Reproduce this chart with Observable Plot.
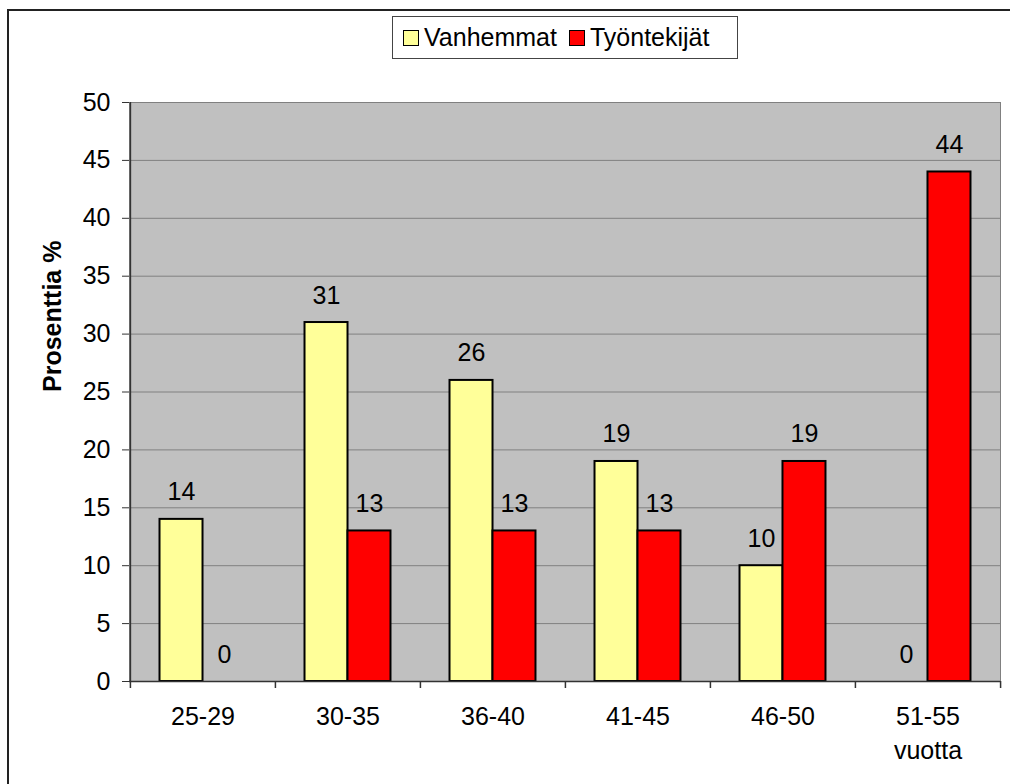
<!DOCTYPE html>
<html>
<head>
<meta charset="utf-8">
<script src="https://cdn.jsdelivr.net/npm/d3@7"></script>
<script src="https://cdn.jsdelivr.net/npm/@observablehq/plot@0.6"></script>
<style>
  html, body { margin: 0; padding: 0; background: #fff; overflow: hidden; }
  body { width: 1010px; height: 784px; position: relative; font-family: "Liberation Sans", Arial, sans-serif; }
  #border { position: absolute; left: 7px; top: 9px; width: 1100px; height: 900px; border-top: 2px solid #222; border-left: 2px solid #222; pointer-events: none; }
  #legendArea { position: relative; height: 90px; }
  #legend { position: absolute; left: 392px; top: 16px; width: 344px; height: 41px; border: 1px solid #444; display: flex; align-items: center; font-size: 25px; color: #000; background: #fff; }
  .sw { width: 14px; height: 14px; border: 1px solid #000; display: inline-block; }
  .item { display: flex; align-items: center; }
</style>
</head>
<body>
<div id="border"></div>
<div id="legendArea"><div id="legend"></div></div>
<div id="chart"></div>
<script>
const categories = ["25-29", "30-35", "36-40", "41-45", "46-50", "51-55\nvuotta"];
const seriesNames = ["Vanhemmat", "Työntekijät"];
const vanhemmat = [14, 31, 26, 19, 10, 0];
const tyontekijat = [0, 13, 13, 13, 19, 44];
const yTicks = [0, 5, 10, 15, 20, 25, 30, 35, 40, 45, 50];
const colors = ["#FFFF99", "#FF0000"];
const yLabel = "Prosenttia %";

const rows = categories.flatMap((c, i) => [
  {cat: c, series: seriesNames[0], value: vanhemmat[i]},
  {cat: c, series: seriesNames[1], value: tyontekijat[i]}
]);

// legend
const legend = document.getElementById("legend");
seriesNames.forEach((s, i) => {
  const it = document.createElement("div");
  it.className = "item";
  it.style.marginLeft = i === 0 ? "10px" : "12px";
  const sw = document.createElement("span");
  sw.className = "sw";
  sw.style.background = colors[i];
  const t = document.createElement("span");
  t.textContent = s;
  t.style.marginLeft = "5px";
  it.appendChild(sw); it.appendChild(t);
  legend.appendChild(it);
});

const W = 1010, H = 694, mL = 129, mR = 10, mT = 12, mB = 103;
const step = (W - mL - mR) / categories.length;
const padInner = 0.704;
const half = step * (1 - padInner) / 2;
const font = "Liberation Sans, Arial, sans-serif";
const fs = 25;

const chart = Plot.plot({
  width: W, height: H,
  marginLeft: mL, marginRight: mR, marginTop: mT, marginBottom: mB,
  style: {fontFamily: font, fontSize: fs + "px", color: "#000", background: "transparent", overflow: "visible"},
  x: {domain: categories, paddingInner: padInner, paddingOuter: padInner / 2, axis: null},
  y: {domain: [0, 50], axis: null},
  marks: [
    Plot.frame({fill: "#C0C0C0", stroke: "#808080"}),
    Plot.ruleY(yTicks.filter(d => d > 0), {stroke: "#808080", strokeWidth: 1}),
    Plot.barY(rows.filter(d => d.series === seriesNames[0] && d.value > 0), {x: "cat", y: "value", fill: colors[0], stroke: "#000", strokeWidth: 2, dx: -half}),
    Plot.barY(rows.filter(d => d.series === seriesNames[1] && d.value > 0), {x: "cat", y: "value", fill: colors[1], stroke: "#000", strokeWidth: 2, dx: half}),
    Plot.text(rows.filter(d => d.series === seriesNames[0]), {x: "cat", y: "value", text: d => String(d.value), dx: -half, dy: -27, fontSize: fs, fill: "#000"}),
    Plot.text(rows.filter(d => d.series === seriesNames[1]), {x: "cat", y: "value", text: d => String(d.value), dx: half, dy: -27, fontSize: fs, fill: "#000"}),
    Plot.ruleY([0], {stroke: "#333", strokeWidth: 1.5}),
    Plot.ruleX([categories[0]], {y1: 0, y2: 50, dx: -step / 2, stroke: "#333", strokeWidth: 1.5}),
    Plot.ruleX(categories, {y1: 0, y2: 0, insetBottom: -7, dx: -step / 2, stroke: "#333", strokeWidth: 1.5}),
    Plot.ruleX([categories[categories.length - 1]], {y1: 0, y2: 0, insetBottom: -7, dx: step / 2, stroke: "#333", strokeWidth: 1.5}),
    Plot.axisY({ticks: yTicks, tickSize: 7, tickPadding: 12, fontSize: fs, label: null, stroke: "#333"}),
    Plot.axisX({tickSize: 0, tickPadding: 19, fontSize: fs, lineHeight: 1.36, label: null}),
    Plot.text([yLabel], {frameAnchor: "left", rotate: -90, dx: -77, fontSize: fs, fontWeight: "bold", fill: "#000"})
  ]
});
document.getElementById("chart").appendChild(chart);
</script>
</body>
</html>
